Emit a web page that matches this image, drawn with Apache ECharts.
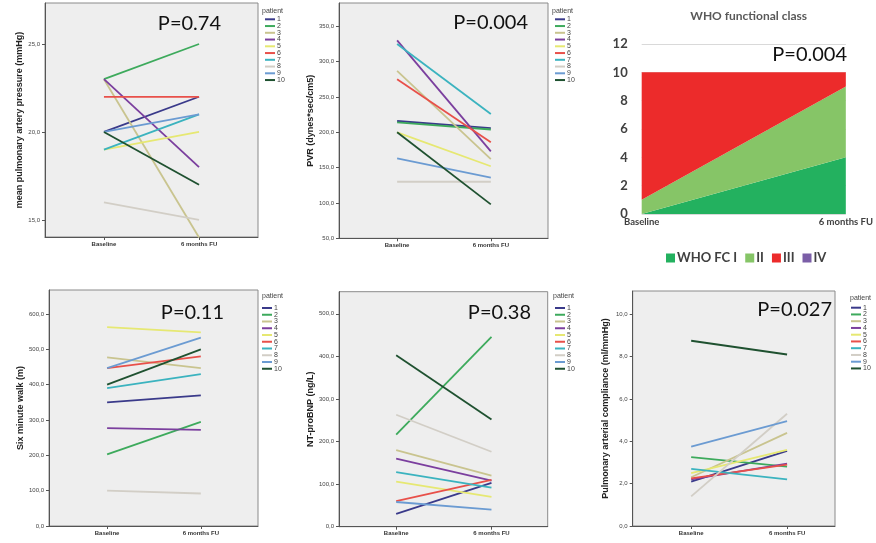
<!DOCTYPE html>
<html><head><meta charset="utf-8">
<script src="https://cdn.jsdelivr.net/npm/echarts@6/dist/echarts.min.js"></script>
<style>html,body{margin:0;padding:0;background:#fff}#c{width:876px;height:543px}</style>
</head><body><div id="c"></div>
<script>
// ---------- data ----------
const timepoints = ['Baseline', '6 months FU'];
const patients = ['1','2','3','4','5','6','7','8','9','10'];
const patientColors = ['#3a3a8a','#3daa5c','#c9c48f','#7b3f9e','#e6e872','#e8504a','#3bb3bf','#d2cec6','#6b9bd2','#1f5130'];

const mpapBaseline = [20, 23, 23, 23, 19, 22, 19, 16, 20, 20];
const mpapFU       = [22, 25, 14, 18, 20, 22, 21, 15, 21, 17];
const mpapTicks    = [15, 20, 25];

const pvrBaseline  = [216, 214, 287, 330, 200, 275, 325, 130, 163, 200];
const pvrFU        = [206, 204, 162, 173, 152, 186, 226, 130, 136, 98];
const pvrTicks     = [50, 100, 150, 200, 250, 300, 350];

const smwBaseline  = [350, 203, 477, 277, 563, 447, 390, 100, 447, 400];
const smwFU        = [370, 295, 447, 272, 548, 480, 430, 92, 533, 500];
const smwTicks     = [0, 100, 200, 300, 400, 500, 600];

const bnpBaseline  = [30, 216, 180, 160, 106, 60, 128, 263, 58, 403];
const bnpFU        = [103, 446, 120, 108, 70, 110, 92, 176, 40, 252];
const bnpTicks     = [0, 100, 200, 300, 400, 500];

const pacBaseline  = [2.1, 3.25, 2.3, 2.2, 2.5, 2.25, 2.7, 1.4, 3.75, 8.75];
const pacFU        = [3.55, 2.8, 4.4, 2.95, 3.6, 2.9, 2.2, 5.3, 4.95, 8.1];
const pacTicks     = [0, 2, 4, 6, 8, 10];

const whoClasses   = ['WHO FC I', 'II', 'III', 'IV'];
const whoColors    = ['#23b15f', '#86c567', '#ec2b2b', '#7b5ea7'];
const whoBaseline  = [0, 1, 9, 0];
const whoFU        = [4, 5, 1, 0];
const whoTicks     = [0, 2, 4, 6, 8, 10, 12];

// ---------- layout ----------
const panels = [
  {name:'mean pulmonary artery pressure (mmHg)', base:mpapBaseline, fu:mpapFU, ticks:mpapTicks,
   grid:{left:45, right:618, top:3, bottom:306}, yMin:14.03, yMax:27.33, xMin:-0.62, xMax:1.62, nameGap:19,
   legend:{left:265, top:15.8}, pt:{x:262, y:10.7}, p:{text:'P=0.74', x:221, y:23.3}},
  {name:'PVR (dynes*sec/cm5)', base:pvrBaseline, fu:pvrFU, ticks:pvrTicks,
   grid:{left:339, right:328, top:3, bottom:304.7}, yMin:50, yMax:383, xMin:-0.62, xMax:1.61, nameGap:23,
   legend:{left:555, top:15.8}, pt:{x:552, y:10.7}, p:{text:'P=0.004', x:528, y:23}},
  {name:'Six minute walk (m)', base:smwBaseline, fu:smwFU, ticks:smwTicks,
   grid:{left:49, right:618, top:290, bottom:17}, yMin:0, yMax:668, xMin:-0.62, xMax:1.61, nameGap:23,
   legend:{left:262, top:304.5}, pt:{x:262, y:296}, p:{text:'P=0.11', x:224, y:313}},
  {name:'NT-proBNP (ng/L)', base:bnpBaseline, fu:bnpFU, ticks:bnpTicks,
   grid:{left:339, right:328.3, top:291.7, bottom:16.3}, yMin:0, yMax:552, xMin:-0.6, xMax:1.59, nameGap:23,
   legend:{left:555, top:304.5}, pt:{x:553, y:296}, p:{text:'P=0.38', x:531, y:313}},
  {name:'Pulmonary arterial compliance (ml/mmHg)', base:pacBaseline, fu:pacFU, ticks:pacTicks,
   grid:{left:632.7, right:41, top:291, bottom:17}, yMin:0, yMax:11.1, xMin:-0.61, xMax:1.5, nameGap:23,
   legend:{left:851, top:304.2}, pt:{x:850, y:297.7}, p:{text:'P=0.027', x:832, y:310}}
];

const SPSS_FONT = '"Liberation Sans", Arial, sans-serif';
const fmtComma = v => Number(v).toFixed(1).replace('.', ',');

const grid = [], xAxis = [], yAxis = [], series = [], legend = [], graphic = [];

panels.forEach((pn, i) => {
  grid.push(Object.assign({show:true, backgroundColor:'#eeeeee', borderColor:'#8a8a8a', borderWidth:1, containLabel:false}, pn.grid));
  xAxis.push({
    type:'value', gridIndex:i, min:pn.xMin, max:pn.xMax,
    splitLine:{show:false},
    axisLine:{show:true, onZero:false, lineStyle:{color:'#555', width:1}},
    axisTick:{show:true, customValues:[0,1], length:3, lineStyle:{color:'#555'}},
    axisLabel:{show:true, customValues:[0,1], formatter:v => timepoints[Math.round(v)],
      fontSize:6, fontWeight:'bold', color:'#333', margin:4, fontFamily:SPSS_FONT}
  });
  yAxis.push({
    type:'value', gridIndex:i, min:pn.yMin, max:pn.yMax,
    name:pn.name, nameLocation:'middle', nameGap:pn.nameGap,
    nameTextStyle:{fontSize:9, fontWeight:'bold', color:'#222', fontFamily:SPSS_FONT},
    splitLine:{show:false},
    axisLine:{show:true, onZero:false, lineStyle:{color:'#555', width:1}},
    axisTick:{show:true, customValues:pn.ticks, length:3, lineStyle:{color:'#555'}},
    axisLabel:{show:true, customValues:pn.ticks, formatter:fmtComma,
      fontSize:6, color:'#444', margin:5, fontFamily:SPSS_FONT}
  });
  patients.forEach((p, k) => {
    series.push({
      type:'line', name:p, xAxisIndex:i, yAxisIndex:i,
      data:[[0, pn.base[k]], [1, pn.fu[k]]],
      symbol:'none', silent:true, animation:false,
      lineStyle:{width:1.8, color:patientColors[k]}, itemStyle:{color:patientColors[k]},
      z: 2
    });
  });
  legend.push({
    data:patients, orient:'vertical', left:pn.legend.left, top:pn.legend.top,
    padding:0, itemGap:-0.25, itemWidth:10, itemHeight:2, icon:'rect', selectedMode:false,
    textStyle:{fontSize:7, lineHeight:7, color:'#444', fontFamily:SPSS_FONT, padding:[0,0,0,-3]}
  });
  graphic.push({type:'text', x:pn.pt.x, y:pn.pt.y,
    style:{text:'patient', fill:'#444', font:'7px ' + SPSS_FONT, textAlign:'left', textVerticalAlign:'middle', align:'left', verticalAlign:'middle'}});
  graphic.push({type:'text', x:pn.p.x, y:pn.p.y,
    style:{text:pn.p.text, fill:'#111', font:'20px Lato', textAlign:'right', textVerticalAlign:'middle', align:'right', verticalAlign:'middle'}});
});

// WHO functional class panel
const wi = panels.length;
grid.push({left:641.7, right:28.3, top:44, bottom:329, show:false});
xAxis.push({type:'category', gridIndex:wi, data:timepoints, boundaryGap:false,
  axisLine:{show:false}, axisTick:{show:false},
  axisLabel:{fontSize:9.5, fontWeight:'bold', color:'#404040', margin:3, fontFamily:'Lato'}});
yAxis.push({type:'value', gridIndex:wi, min:0, max:12, interval:2,
  axisLine:{show:false}, axisTick:{show:false},
  splitLine:{show:true, lineStyle:{color:'#d9d9d9', width:1}},
  axisLabel:{fontSize:13, fontWeight:'bold', color:'#404040', margin:14, fontFamily:'Lato'}});
whoClasses.forEach((c, k) => {
  series.push({type:'line', name:c, xAxisIndex:wi, yAxisIndex:wi, stack:'who',
    data:[whoBaseline[k], whoFU[k]], symbol:'none', silent:true, animation:false,
    lineStyle:{width:0, color:whoColors[k]}, itemStyle:{color:whoColors[k]},
    areaStyle:{color:whoColors[k], opacity:1}});
});
legend.push({data:whoClasses, orient:'horizontal', left:666, top:251.5, padding:0,
  itemGap:8, itemWidth:9, itemHeight:9, icon:'rect', selectedMode:false,
  textStyle:{fontSize:13, fontWeight:'bold', color:'#404040', fontFamily:'Lato', padding:[0,0,0,-3]}});
graphic.push({type:'text', x:748.7, y:16,
  style:{text:'WHO functional class', fill:'#595959', font:'bold 12px Lato', textAlign:'center', textVerticalAlign:'middle', align:'center', verticalAlign:'middle'}});
graphic.push({type:'text', x:847, y:55,
  style:{text:'P=0.004', fill:'#111', font:'20px Lato', textAlign:'right', textVerticalAlign:'middle', align:'right', verticalAlign:'middle'}});

const chart = echarts.init(document.getElementById('c'), null, {renderer:'canvas'});
chart.setOption({animation:false, backgroundColor:'#ffffff', grid, xAxis, yAxis, series, legend, graphic});
</script></body></html>
